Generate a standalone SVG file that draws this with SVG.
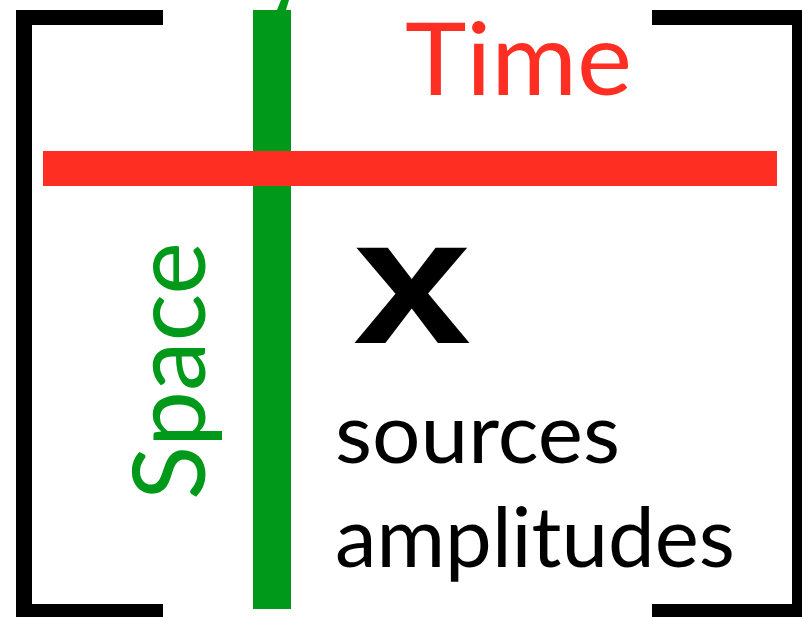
<svg xmlns="http://www.w3.org/2000/svg" width="802" height="617" viewBox="0 0 802 617">
<style>
.br{fill:#000}
.t{font-family:Lato,"Open Sans","Liberation Sans",sans-serif}
</style>
<rect width="802" height="617" fill="#fff"/>
<g id="bracket-left">
<rect class="br" x="16" y="10" width="16" height="607"/>
<rect class="br" x="16" y="10" width="147" height="15"/>
<rect class="br" x="16" y="604" width="147" height="13"/>
</g>
<g id="bracket-right">
<rect class="br" x="792" y="10" width="10" height="607"/>
<rect class="br" x="652" y="10" width="150" height="15"/>
<rect class="br" x="652" y="604" width="150" height="13"/>
</g>
<g id="space-axis">
<rect x="253" y="10" width="38" height="599" fill="#00991a"/>
<polygon points="277,10 286,10 289,0 281,0" fill="#00991a"/>
<text class="t" transform="translate(205,500) rotate(-90)" font-size="100" fill="#00991a" textLength="258" lengthAdjust="spacingAndGlyphs">Space</text>
</g>
<g id="time-axis">
<rect x="43" y="151" width="734" height="35" fill="#ff2e22"/>
<text class="t" x="405" y="95" font-size="101" fill="#ff2e22" textLength="227" lengthAdjust="spacingAndGlyphs">Time</text>
</g>
<g id="matrix">
<text x="353" y="343" font-family="'Liberation Sans',Arial,sans-serif" font-weight="bold" font-size="180" fill="#000" textLength="118" lengthAdjust="spacingAndGlyphs">x</text>
<text class="t" x="335" y="463" font-size="84" fill="#000" textLength="285" lengthAdjust="spacingAndGlyphs">sources</text>
<text class="t" x="335" y="567" font-size="84" fill="#000" textLength="400" lengthAdjust="spacingAndGlyphs">amplitudes</text>
</g>
</svg>
